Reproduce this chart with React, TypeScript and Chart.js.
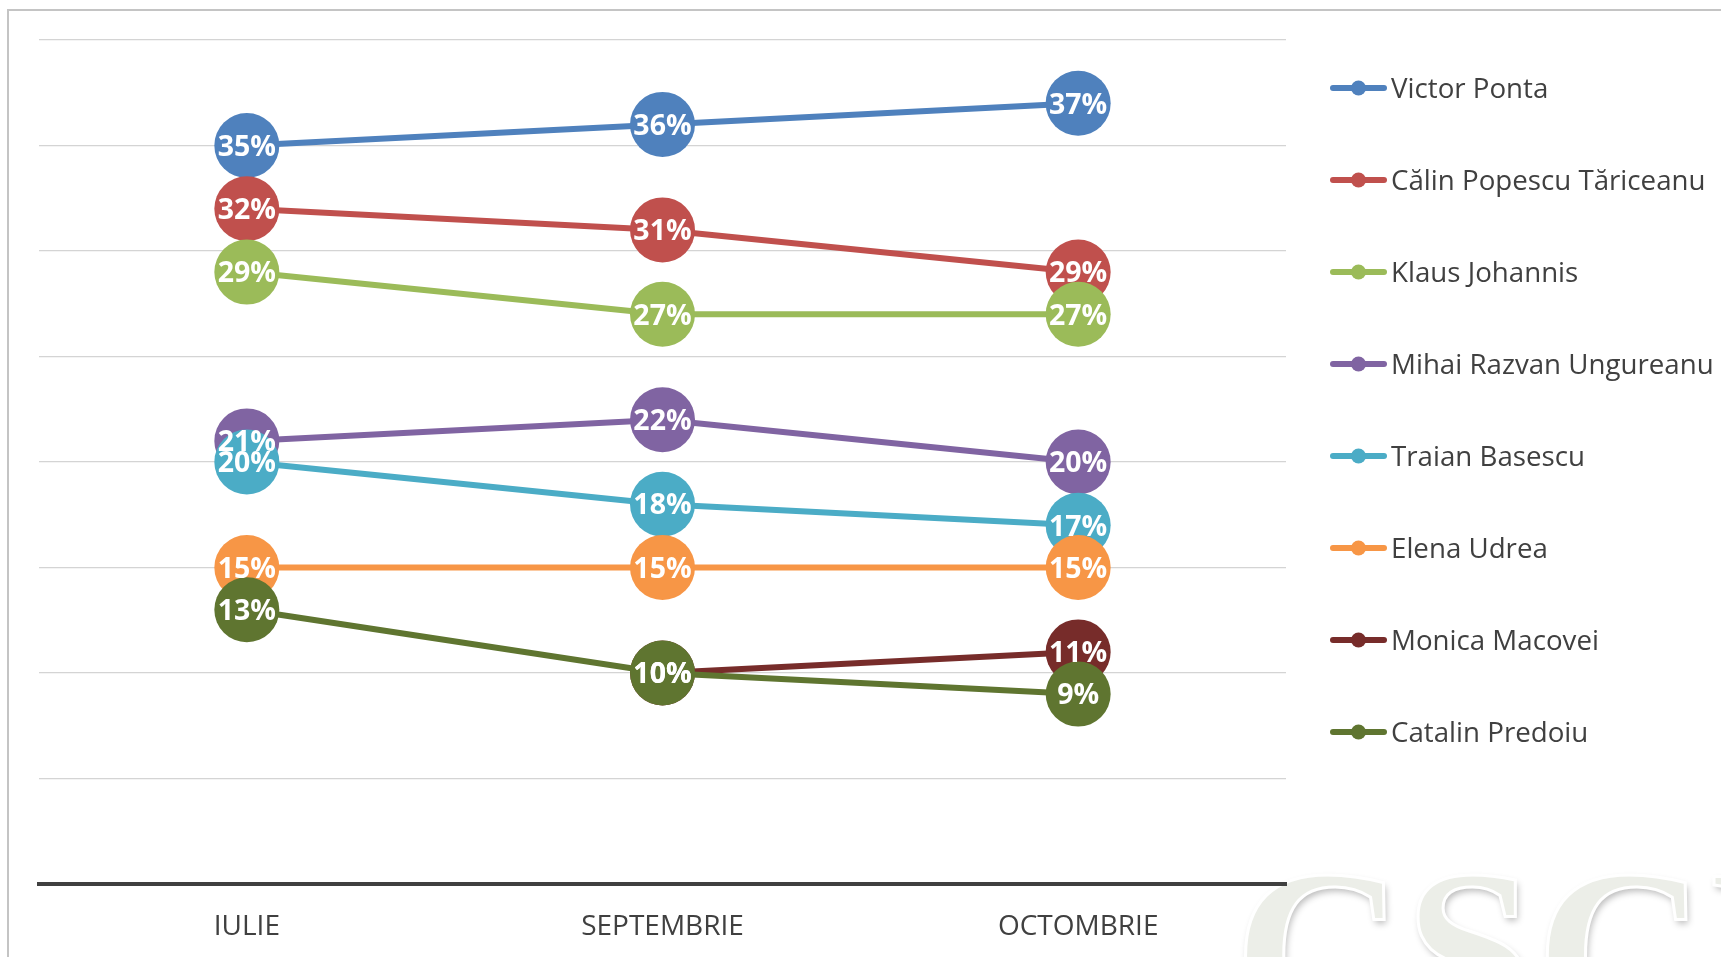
import React, { useEffect, useRef } from 'react';
import { Chart, registerables } from 'chart.js';

Chart.register(...registerables);

const categories = ['IULIE', 'SEPTEMBRIE', 'OCTOMBRIE'];

const seriesNames = [
  'Victor Ponta',
  'Călin Popescu Tăriceanu',
  'Klaus Johannis',
  'Mihai Razvan Ungureanu',
  'Traian Basescu',
  'Elena Udrea',
  'Monica Macovei',
  'Catalin Predoiu',
];

const victorPonta = [35, 36, 37];
const calinTariceanu = [32, 31, 29];
const klausJohannis = [29, 27, 27];
const mihaiUngureanu = [21, 22, 20];
const traianBasescu = [20, 18, 17];
const elenaUdrea = [15, 15, 15];
const monicaMacovei = [null, 10, 11];
const catalinPredoiu = [13, 10, 9];

const seriesValues = [
  victorPonta,
  calinTariceanu,
  klausJohannis,
  mihaiUngureanu,
  traianBasescu,
  elenaUdrea,
  monicaMacovei,
  catalinPredoiu,
];

const seriesColors = [
  '#4f81bd',
  '#c0504d',
  '#9bbb59',
  '#8064a2',
  '#4bacc6',
  '#f79646',
  '#772c2a',
  '#5f7530',
];

const yMin = 0;
const yMax = 40;
const yStep = 5;

const FONT = '"Open Sans", "Noto Sans", sans-serif';

const valueLabels = {
  id: 'valueLabels',
  afterDatasetsDraw(chart: any) {
    const ctx = chart.ctx;
    ctx.save();
    ctx.font = `bold 28.5px ${FONT}`;
    ctx.fillStyle = '#ffffff';
    ctx.textAlign = 'center';
    ctx.textBaseline = 'alphabetic';
    chart.data.datasets.forEach((ds: any, i: number) => {
      const meta = chart.getDatasetMeta(i);
      meta.data.forEach((pt: any, j: number) => {
        const v = ds.data[j];
        if (v == null) return;
        ctx.fillText(`${v}%`, pt.x, pt.y + 10.2);
      });
    });
    ctx.restore();
  },
};

const sideLegend = {
  id: 'sideLegend',
  afterDraw(chart: any) {
    const ctx = chart.ctx;
    const area = chart.chartArea;
    const x0 = area.right + 44;
    const lineLen = 57;
    const top = 88;
    const gap = 92;
    ctx.save();
    chart.data.datasets.forEach((ds: any, i: number) => {
      const y = top + i * gap;
      ctx.strokeStyle = ds.borderColor;
      ctx.lineWidth = 6;
      ctx.lineCap = 'round';
      ctx.beginPath();
      ctx.moveTo(x0 + 3, y);
      ctx.lineTo(x0 + lineLen - 3, y);
      ctx.stroke();
      ctx.fillStyle = ds.borderColor;
      ctx.beginPath();
      ctx.arc(x0 + lineLen / 2, y, 7.5, 0, Math.PI * 2);
      ctx.fill();
      ctx.fillStyle = '#404040';
      ctx.font = `27.7px ${FONT}`;
      ctx.textAlign = 'left';
      ctx.textBaseline = 'alphabetic';
      ctx.fillText(ds.label, x0 + lineLen + 4, y + 10);
    });
    ctx.restore();
  },
};

export default function App() {
  const canvasRef = useRef<HTMLCanvasElement | null>(null);

  useEffect(() => {
    const canvas = canvasRef.current;
    if (!canvas) return;
    const datasets = seriesNames.map((name, i) => ({
      label: name,
      data: seriesValues[i],
      borderColor: seriesColors[i],
      backgroundColor: seriesColors[i],
      pointBackgroundColor: seriesColors[i],
      pointBorderWidth: 0,
      pointRadius: 32.5,
      pointHoverRadius: 32.5,
      borderWidth: 6,
      tension: 0,
      clip: false as any,
      order: -i,
    }));
    const chart = new Chart(canvas, {
      type: 'line',
      data: { labels: categories, datasets },
      options: {
        responsive: false,
        animation: false,
        events: [],
        layout: { padding: { left: 39, top: 40, right: 435, bottom: 0 } },
        plugins: {
          legend: { display: false },
          tooltip: { enabled: false },
          title: { display: false },
        },
        scales: {
          x: {
            type: 'category',
            offset: true,
            grid: { display: false, drawTicks: false },
            border: { display: true, color: '#404040', width: 4 },
            ticks: {
              color: '#404040',
              font: { family: FONT, size: 28 },
              padding: 26,
              maxRotation: 0,
            },
            afterFit: (s: any) => {
              s.height = 73;
            },
          },
          y: {
            min: yMin,
            max: yMax,
            ticks: { display: false, stepSize: yStep },
            grid: { color: '#d4d4d4', lineWidth: 1.2, drawTicks: false },
            border: { display: false },
            afterFit: (s: any) => {
              s.width = 0;
            },
          },
        },
      },
      plugins: [valueLabels, sideLegend],
    });
    return () => chart.destroy();
  }, []);

  return (
    <div
      style={{
        position: 'fixed',
        left: 0,
        top: 0,
        width: 1721,
        height: 957,
        overflow: 'hidden',
        background: '#ffffff',
      }}
    >
      <div
        style={{
          position: 'absolute',
          left: 7,
          top: 9,
          width: 2000,
          height: 2000,
          border: '2px solid #c4c4c4',
          boxSizing: 'border-box',
        }}
      />
      <div
        style={{
          position: 'absolute',
          left: 1234,
          top: 834,
          fontFamily: '"Liberation Serif", "DejaVu Serif", serif',
          fontWeight: 'bold',
          fontSize: 236,
          lineHeight: 1,
          color: '#eceee8',
          WebkitTextStroke: '3px #ffffff',
          textShadow: '2px 4px 7px rgba(0,0,0,0.28)',
          whiteSpace: 'nowrap',
        }}
      >
        CSCI
      </div>
      <canvas
        ref={canvasRef}
        width={1721}
        height={957}
        style={{ position: 'absolute', left: 0, top: 0, display: 'block' }}
      />
    </div>
  );
}
